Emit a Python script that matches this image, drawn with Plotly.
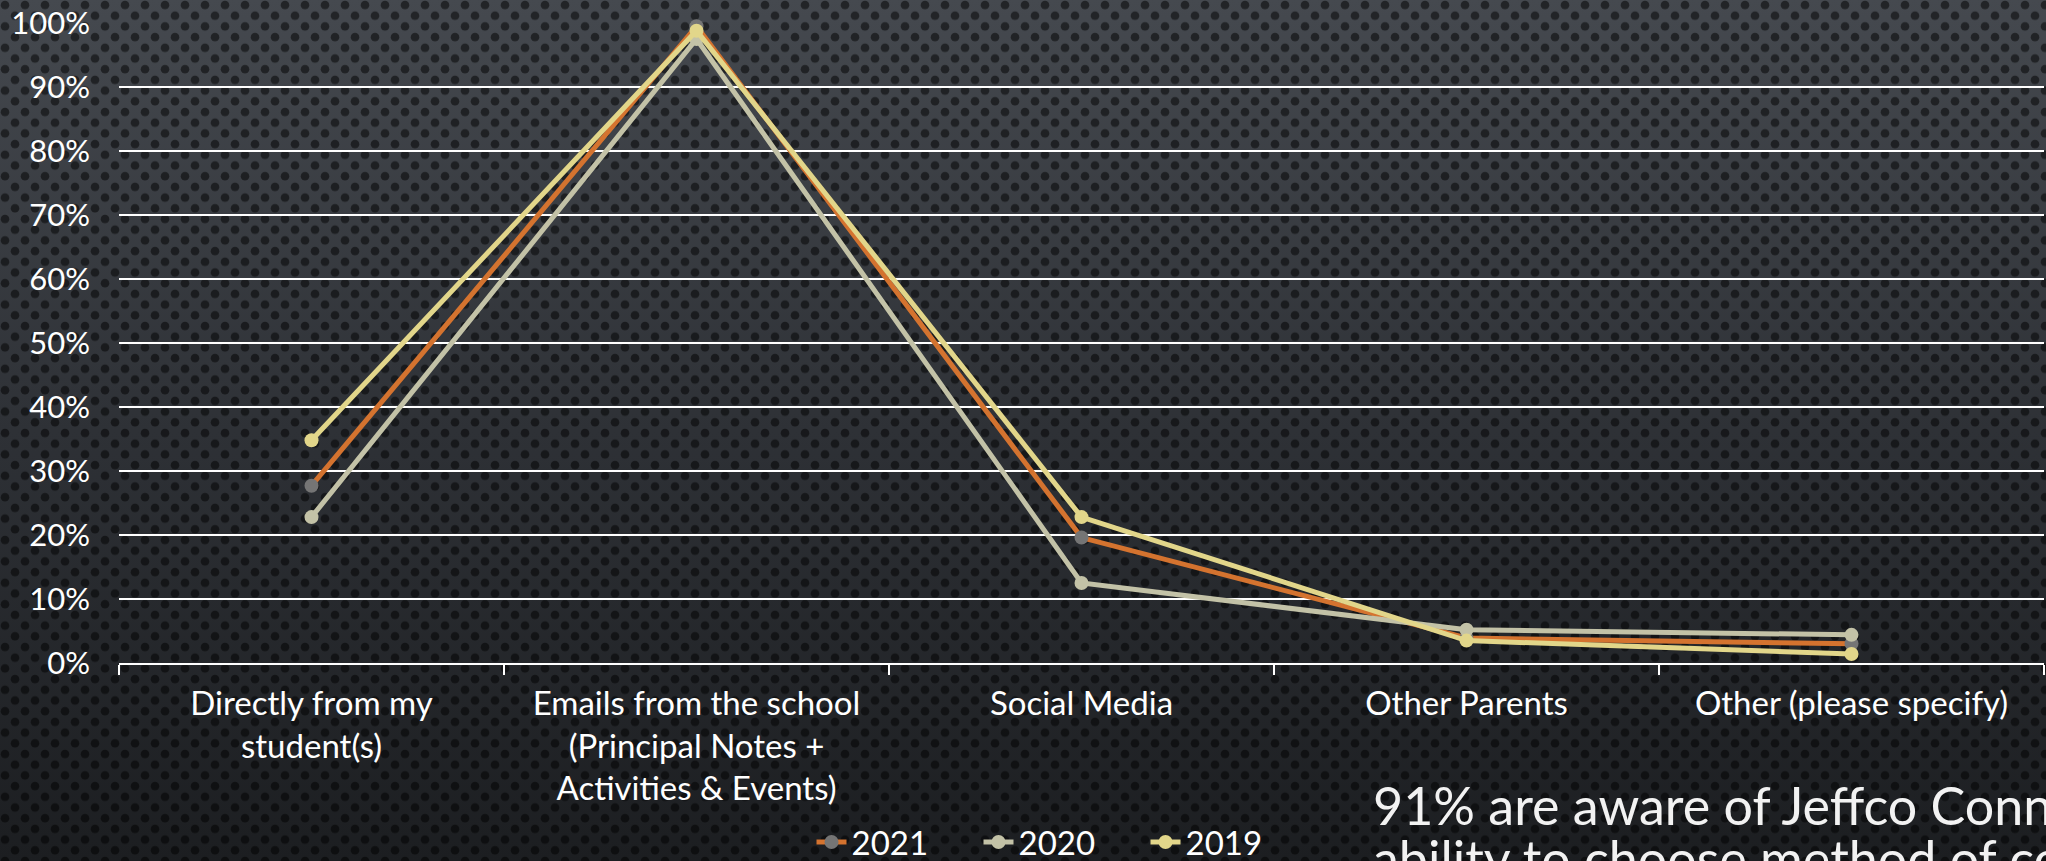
import base64
import plotly.graph_objects as go

categories = [
    "Directly from my<br>student(s)",
    "Emails from the school<br>(Principal Notes +<br>Activities & Events)",
    "Social Media",
    "Other Parents",
    "Other (please specify)",
]
y2021 = [0.277, 0.995, 0.196, 0.039, 0.030]
y2020 = [0.228, 0.975, 0.125, 0.052, 0.044]
y2019 = [0.348, 0.988, 0.228, 0.035, 0.014]
y_ticks = [0, 0.1, 0.2, 0.3, 0.4, 0.5, 0.6, 0.7, 0.8, 0.9, 1.0]
note_lines = ["91% are aware of Jeffco Connects'", "ability to choose method of communication"]

W, H = 2046, 861
L, R, T, B = 119, 2, 23, 198
pw, ph = W - L - R, H - T - B

FONT = "Lato"

svg = f'''<svg xmlns="http://www.w3.org/2000/svg" width="{W}" height="{H}" viewBox="0 0 {W} {H}">
<defs>
<linearGradient id="g" x1="0" y1="0" x2="0" y2="1">
<stop offset="0" stop-color="#45494f"/><stop offset="0.5" stop-color="#2e3136"/><stop offset="1" stop-color="#1c1e21"/>
</linearGradient>
<pattern id="p" width="20" height="21.4" patternUnits="userSpaceOnUse">
<circle cx="5" cy="5" r="4.3" fill="#000" fill-opacity="0.5"/>
<circle cx="15" cy="15.7" r="4.3" fill="#000" fill-opacity="0.5"/>
</pattern>
</defs>
<rect x="0" y="0" width="{W}" height="{H}" fill="url(#g)"/>
<rect x="0" y="0" width="{W}" height="{H}" fill="url(#p)"/>
</svg>'''
src = "data:image/svg+xml;base64," + base64.b64encode(svg.encode()).decode()

series = [
    ("2021", y2021, "#d4732f", "#757575"),
    ("2020", y2020, "#c3c2a7", "#c3c2a7"),
    ("2019", y2019, "#e2d68a", "#e2d68a"),
]

fig = go.Figure()
for name, vals, lc, mc in series:
    fig.add_trace(go.Scatter(
        x=categories, y=vals, name=name, mode="lines+markers",
        line=dict(color=lc, width=5),
        marker=dict(color=mc, size=14, line=dict(width=0)),
        cliponaxis=False,
    ))

fig.add_layout_image(dict(
    source=src, xref="paper", yref="paper",
    x=-L / pw, y=1 + T / ph, sizex=W / pw, sizey=H / ph,
    xanchor="left", yanchor="top", sizing="stretch", layer="below",
))

for i, line in enumerate(note_lines):
    fig.add_annotation(
        text=line, xref="paper", yref="paper",
        x=(1371 - L) / pw, y=(H - B - (805 + 53 * i)) / ph,
        xanchor="left", yanchor="middle", align="left", showarrow=False,
        font=dict(family=FONT, size=52, color="#f2f2f2"),
    )

fig.update_layout(
    width=W, height=H,
    margin=dict(l=L, r=R, t=T, b=B, pad=0, autoexpand=False),
    paper_bgcolor="#2b2e33", plot_bgcolor="rgba(0,0,0,0)",
    font=dict(family=FONT, size=33, color="#ffffff"),
    showlegend=True,
    legend=dict(
        orientation="h", xref="container", yref="container",
        x=1062 / W, y=(H - 842) / H,
        xanchor="center", yanchor="middle",
        font=dict(family=FONT, size=33, color="#ffffff"),
        bgcolor="rgba(0,0,0,0)", itemwidth=30,
        entrywidth=122,
    ),
)
fig.update_xaxes(
    showline=True, linecolor="#ffffff", linewidth=2,
    ticks="outside", tickson="boundaries", ticklen=10, tickwidth=2, tickcolor="#ffffff",
    showgrid=False, tickfont=dict(family=FONT, size=33, color="#ffffff"),
    ticklabelstandoff=10,
    range=[-0.5, 4.5],
)
fig.update_yaxes(
    range=[0, 1], tickvals=y_ticks, tickformat=".0%",
    showgrid=True, gridcolor="#ffffff", gridwidth=2,
    zeroline=False, showline=False, ticks="",
    ticklabelstandoff=28,
    tickfont=dict(family=FONT, size=31, color="#ffffff"),
)

fig.write_html(
    "out.html",
    config={"displayModeBar": False},
    post_script="document.body.style.margin='0';document.body.style.overflow='hidden';",
)
